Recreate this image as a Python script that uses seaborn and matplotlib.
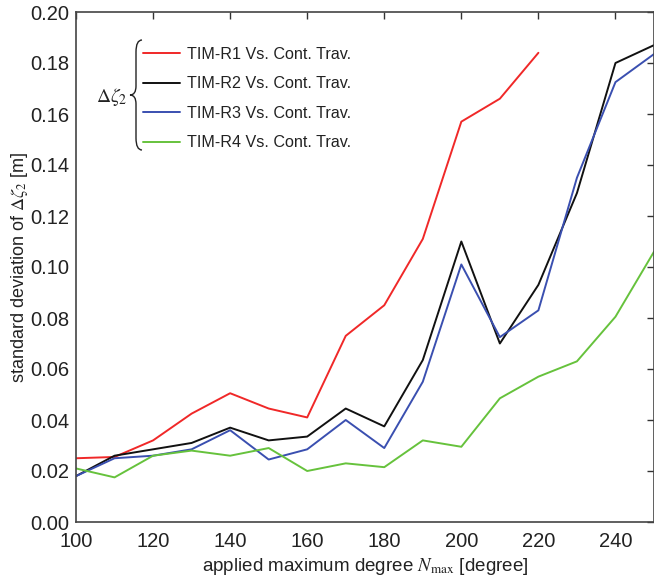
import numpy as np
import pandas as pd
import seaborn as sns
import matplotlib
matplotlib.use("Agg")
import matplotlib.pyplot as plt
from matplotlib.path import Path
from matplotlib.patches import PathPatch

# degrees
degrees = [100, 110, 120, 130, 140, 150, 160, 170, 180, 190, 200, 210, 220, 230, 240, 250]

r1 = [0.0250, 0.0255, 0.0320, 0.0425, 0.0505, 0.0445, 0.0410, 0.0730, 0.0850, 0.1110,
      0.1570, 0.1660, 0.1840]
r2 = [0.0180, 0.0260, 0.0285, 0.0310, 0.0370, 0.0320, 0.0335, 0.0445, 0.0375, 0.0635,
      0.1100, 0.0700, 0.0930, 0.1290, 0.1800, 0.1870]
r3 = [0.0180, 0.0250, 0.0260, 0.0285, 0.0360, 0.0245, 0.0285, 0.0400, 0.0290, 0.0550,
      0.1010, 0.0725, 0.0830, 0.1350, 0.1725, 0.1835]
r4 = [0.0210, 0.0175, 0.0260, 0.0280, 0.0260, 0.0290, 0.0200, 0.0230, 0.0215, 0.0320,
      0.0295, 0.0485, 0.0570, 0.0630, 0.0805, 0.1060]

labels = ["TIM-R1 Vs. Cont. Trav.", "TIM-R2 Vs. Cont. Trav.",
          "TIM-R3 Vs. Cont. Trav.", "TIM-R4 Vs. Cont. Trav."]
colors = ["#f02828", "#111111", "#3a4fb0", "#66c23c"]

rows = []
for lab, vals in zip(labels, [r1, r2, r3, r4]):
    for d, v in zip(degrees, vals):
        rows.append({"degree": d, "std": v, "series": lab})
df = pd.DataFrame(rows)

sns.set_style("white")
plt.rcParams["font.family"] = ["Liberation Sans", "DejaVu Sans"]
plt.rcParams["mathtext.fontset"] = "stix"

fig = plt.figure(figsize=(6.54, 5.79), dpi=100)
ax = fig.add_axes([76 / 654, 57 / 579, 578 / 654, 510 / 579])

sns.lineplot(data=df, x="degree", y="std", hue="series", palette=colors,
             linewidth=1.4, ax=ax)

ax.set_xlim(100, 250)
ax.set_ylim(0, 0.2)
ax.set_xticks(range(100, 251, 20))
ax.set_yticks(np.arange(0, 0.201, 0.02))
ax.set_yticklabels([f"{v:.2f}" for v in np.arange(0, 0.201, 0.02)])
ax.tick_params(direction="in", top=True, right=True, length=5, width=1,
               labelsize=14.5, colors="#333333", labelcolor="#222222")
ax.tick_params(axis="x", pad=7)
ax.tick_params(axis="y", pad=5)
for s in ax.spines.values():
    s.set_color("#444444")
    s.set_linewidth(1.2)

ax.set_xlabel(r"applied maximum degree $N_{\mathrm{max}}$ [degree]", fontsize=13.5,
              color="#222222", labelpad=4)
ax.set_ylabel(r"standard deviation of $\Delta\zeta_2$ [m]", fontsize=13,
              color="#222222", labelpad=0)

leg = ax.legend(loc="upper left", bbox_to_anchor=(0.116, 0.932), frameon=False,
                fontsize=11.6, handlelength=2.3, handletextpad=0.45,
                labelspacing=0.9, borderpad=0, borderaxespad=0)
for t in leg.get_texts():
    t.set_color("#222222")

# brace and symbol left of legend
def px(x, y):
    return ((x - 76) / 578, (522 - y) / 510)

verts = [px(142, 40), px(136, 40), px(136, 52),
         px(136, 86),
         px(136, 95), px(130, 95),
         px(136, 95), px(136, 104),
         px(136, 138),
         px(136, 150), px(142, 150)]
codes = [Path.MOVETO, Path.CURVE3, Path.CURVE3,
         Path.LINETO,
         Path.CURVE3, Path.CURVE3,
         Path.CURVE3, Path.CURVE3,
         Path.LINETO,
         Path.CURVE3, Path.CURVE3]
brace = PathPatch(Path(verts, codes), transform=ax.transAxes, fill=False,
                  edgecolor="#222222", linewidth=1.0, clip_on=False)
ax.add_patch(brace)
ax.text(*px(127, 97), r"$\Delta\zeta_2$", transform=ax.transAxes, ha="right",
        va="center", fontsize=14, color="#222222")

fig.savefig("out.png", dpi=100)
